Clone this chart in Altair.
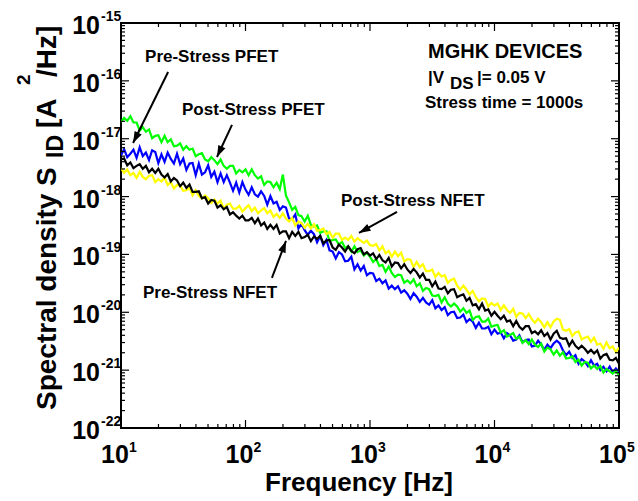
import math
import altair as alt
import pandas as pd

# ---------------- data ----------------
freq_hz = [10.00, 10.59, 11.22, 11.89, 12.59, 13.34, 14.13, 14.96, 15.85, 16.79, 17.78, 18.84, 19.95, 21.13, 22.39, 23.71,
           25.12, 26.61, 28.18, 29.85, 31.62, 33.50, 35.48, 37.58, 39.81, 42.17, 44.67, 47.32, 50.12, 53.09, 56.23, 59.57,
           63.10, 66.83, 70.79, 74.99, 79.43, 84.14, 89.13, 94.41,
           100.0, 105.9, 112.2, 118.9, 125.9, 133.4, 141.3, 149.6, 158.5, 167.9, 177.8, 188.4, 199.5, 211.3, 223.9, 237.1,
           251.2, 266.1, 281.8, 298.5, 316.2, 335.0, 354.8, 375.8, 398.1, 421.7, 446.7, 473.2, 501.2, 530.9, 562.3, 595.7,
           631.0, 668.3, 707.9, 749.9, 794.3, 841.4, 891.3, 944.1,
           1000, 1059, 1122, 1189, 1259, 1334, 1413, 1496, 1585, 1679, 1778, 1884, 1995, 2113, 2239, 2371,
           2512, 2661, 2818, 2985, 3162, 3350, 3548, 3758, 3981, 4217, 4467, 4732, 5012, 5309, 5623, 5957,
           6310, 6683, 7079, 7499, 7943, 8414, 8913, 9441,
           10000, 10590, 11220, 11890, 12590, 13340, 14130, 14960, 15850, 16790, 17780, 18840, 19950, 21130, 22390, 23710,
           25120, 26610, 28180, 29850, 31620, 33500, 35480, 37580, 39810, 42170, 44670, 47320, 50120, 53090, 56230, 59570,
           63100, 66830, 70790, 74990, 79430, 84140, 89130, 94410,
           100000]

# log10 of S_ID [A^2/Hz], one value per frequency above
post_pfet_log = [-16.71, -16.64, -16.69, -16.61, -16.72, -16.72, -16.86, -16.80, -16.88, -16.84,
                 -16.99, -16.95, -16.94, -17.06, -16.95, -17.06, -17.01, -17.13, -17.12, -17.08,
                 -17.19, -17.13, -17.19, -17.17, -17.30, -17.27, -17.25, -17.36, -17.39, -17.32,
                 -17.37, -17.44, -17.36, -17.47, -17.52, -17.47, -17.47, -17.60, -17.54, -17.58,
                 -17.53, -17.63, -17.53, -17.63, -17.69, -17.65, -17.80, -17.74, -17.75, -17.84,
                 -17.76, -17.87, -17.62, -17.98, -18.10, -18.23, -18.18, -18.32, -18.34, -18.43,
                 -18.33, -18.49, -18.52, -18.50, -18.63, -18.60, -18.60, -18.77, -18.75, -18.74,
                 -18.83, -18.78, -18.89, -18.86, -18.95, -18.86, -18.96, -18.93, -19.02, -18.97,
                 -19.04, -19.13, -19.08, -19.20, -19.18, -19.30, -19.21, -19.32, -19.39, -19.35,
                 -19.36, -19.49, -19.45, -19.50, -19.43, -19.55, -19.50, -19.63, -19.58, -19.60,
                 -19.71, -19.72, -19.70, -19.83, -19.74, -19.85, -19.90, -19.85, -19.90, -19.99,
                 -19.93, -20.01, -19.97, -20.13, -20.08, -20.07, -20.16, -20.16, -20.11, -20.25,
                 -20.23, -20.22, -20.35, -20.31, -20.42, -20.39, -20.36, -20.46, -20.42, -20.53,
                 -20.48, -20.55, -20.47, -20.56, -20.60, -20.54, -20.68, -20.61, -20.64, -20.73,
                 -20.66, -20.75, -20.69, -20.80, -20.79, -20.76, -20.86, -20.82, -20.92, -20.86,
                 -20.87, -20.97, -20.92, -20.98, -20.93, -21.04, -20.98, -21.02, -21.06, -21.01,
                 -21.09]

pre_pfet_log = [-17.29, -17.18, -17.32, -17.26, -17.19, -17.33, -17.15, -17.30, -17.24, -17.37,
                -17.20, -17.23, -17.42, -17.27, -17.40, -17.24, -17.35, -17.43, -17.26, -17.44,
                -17.34, -17.54, -17.43, -17.42, -17.63, -17.43, -17.62, -17.58, -17.46, -17.66,
                -17.57, -17.75, -17.60, -17.75, -17.63, -17.76, -17.90, -17.76, -17.93, -17.75,
                -17.88, -17.97, -17.84, -17.96, -18.00, -17.91, -17.99, -18.14, -17.99, -18.12,
                -18.09, -18.23, -18.17, -18.19, -18.38, -18.39, -18.31, -18.55, -18.47, -18.58,
                -18.66, -18.59, -18.65, -18.79, -18.68, -18.84, -18.75, -18.93, -18.95, -19.07,
                -18.96, -19.00, -19.12, -19.11, -19.04, -19.26, -19.17, -19.28, -19.20, -19.36,
                -19.32, -19.33, -19.46, -19.42, -19.50, -19.45, -19.59, -19.54, -19.60, -19.55,
                -19.66, -19.62, -19.68, -19.77, -19.67, -19.73, -19.82, -19.75, -19.83, -19.87,
                -19.79, -19.93, -19.88, -19.96, -19.91, -20.05, -20.00, -19.99, -20.10, -20.09,
                -20.04, -20.17, -20.12, -20.16, -20.27, -20.18, -20.28, -20.28, -20.25, -20.38,
                -20.30, -20.37, -20.35, -20.45, -20.36, -20.40, -20.49, -20.47, -20.40, -20.52,
                -20.48, -20.47, -20.59, -20.58, -20.49, -20.56, -20.65, -20.56, -20.62, -20.54,
                -20.49, -20.54, -20.66, -20.74, -20.68, -20.79, -20.74, -20.89, -20.81, -20.85,
                -20.93, -20.83, -20.92, -20.89, -21.00, -20.94, -21.02, -20.94, -21.04, -20.97,
                -21.03]

post_nfet_log = [-17.51, -17.59, -17.53, -17.63, -17.59, -17.68, -17.57, -17.66, -17.70, -17.64,
                 -17.63, -17.75, -17.70, -17.74, -17.67, -17.80, -17.75, -17.86, -17.80, -17.81,
                 -17.90, -17.89, -17.85, -17.98, -17.89, -17.99, -18.03, -17.98, -18.03, -18.11,
                 -18.05, -18.12, -18.07, -18.21, -18.14, -18.12, -18.21, -18.21, -18.16, -18.26,
                 -18.20, -18.15, -18.25, -18.19, -18.29, -18.24, -18.20, -18.29, -18.24, -18.35,
                 -18.30, -18.37, -18.29, -18.38, -18.43, -18.37, -18.50, -18.43, -18.46, -18.54,
                 -18.47, -18.55, -18.48, -18.59, -18.58, -18.55, -18.65, -18.61, -18.71, -18.64,
                 -18.64, -18.75, -18.71, -18.75, -18.68, -18.78, -18.72, -18.76, -18.80, -18.76,
                 -18.84, -18.85, -18.82, -18.93, -18.86, -18.98, -18.94, -19.04, -18.95, -19.03,
                 -18.97, -19.12, -19.08, -19.09, -19.22, -19.13, -19.22, -19.17, -19.29, -19.29,
                 -19.26, -19.39, -19.32, -19.38, -19.36, -19.49, -19.44, -19.42, -19.54, -19.61,
                 -19.54, -19.61, -19.69, -19.63, -19.74, -19.81, -19.76, -19.77, -19.90, -19.84,
                 -19.88, -19.85, -19.96, -19.88, -19.96, -20.01, -19.94, -20.08, -20.01, -20.02,
                 -20.10, -20.03, -20.12, -20.18, -20.11, -20.17, -20.26, -20.17, -20.26, -20.16,
                 -20.11, -20.13, -20.30, -20.32, -20.29, -20.41, -20.35, -20.33, -20.47, -20.44,
                 -20.42, -20.51, -20.44, -20.56, -20.54, -20.63, -20.52, -20.62, -20.59, -20.69,
                 -20.61]

pre_nfet_log = [-17.36, -17.34, -17.46, -17.41, -17.51, -17.47, -17.44, -17.52, -17.47, -17.58,
                -17.52, -17.59, -17.52, -17.62, -17.67, -17.61, -17.74, -17.68, -17.72, -17.82,
                -17.76, -17.85, -17.79, -17.92, -17.92, -17.91, -18.03, -18.01, -18.12, -18.06,
                -18.07, -18.19, -18.15, -18.22, -18.18, -18.31, -18.27, -18.33, -18.38, -18.33,
                -18.41, -18.41, -18.37, -18.46, -18.38, -18.50, -18.45, -18.56, -18.49, -18.56,
                -18.49, -18.64, -18.60, -18.60, -18.72, -18.61, -18.68, -18.61, -18.72, -18.70,
                -18.66, -18.77, -18.69, -18.73, -18.68, -18.81, -18.76, -18.75, -18.88, -18.92,
                -18.83, -18.88, -18.95, -18.86, -18.94, -18.98, -18.91, -18.89, -19.00, -18.96,
                -19.02, -18.98, -19.08, -19.01, -19.10, -19.14, -19.06, -19.21, -19.14, -19.15,
                -19.24, -19.17, -19.26, -19.32, -19.25, -19.31, -19.40, -19.33, -19.44, -19.44,
                -19.55, -19.47, -19.59, -19.60, -19.56, -19.67, -19.61, -19.60, -19.74, -19.71,
                -19.69, -19.80, -19.75, -19.88, -19.86, -19.95, -19.85, -19.97, -19.95, -20.06,
                -19.99, -20.06, -20.12, -20.06, -20.16, -20.14, -20.24, -20.15, -20.25, -20.30,
                -20.24, -20.24, -20.36, -20.33, -20.38, -20.31, -20.41, -20.36, -20.47, -20.37,
                -20.32, -20.44, -20.46, -20.45, -20.58, -20.49, -20.58, -20.63, -20.58, -20.63,
                -20.70, -20.65, -20.71, -20.66, -20.80, -20.74, -20.72, -20.82, -20.83, -20.79,
                -20.89]

# tick labels
x_major = [10, 100, 1000, 10000, 100000]
x_exp_labels = ["1", "2", "3", "4", "5"]
y_major_exp = [-22, -21, -20, -19, -18, -17, -16, -15]
y_exp_labels = ["-22", "-21", "-20", "-19", "-18", "-17", "-16", "-15"]

# annotations (data coordinates)
ann_text = ["Pre-Stress PFET", "Post-Stress PFET", "Post-Stress NFET", "Pre-Stress NFET"]
ann_f = [15.6, 30.9, 585, 15.0]
ann_S = [2.12e-16, 2.57e-17, 6.88e-19, 1.77e-20]
arrow_f0 = [23.9, 77.9, 1648, 163]
arrow_S0 = [1.42e-16, 1.73e-17, 5.42e-19, 3.93e-20]
arrow_f1 = [12.5, 59.0, 816, 211.5]
arrow_S1 = [8.43e-18, 4.83e-18, 2.35e-19, 1.71e-19]

# ---------------- chart ----------------
W, H = 498, 405
FONT = "Liberation Sans"
xs = alt.Scale(type="log", domain=[10, 100000], nice=False)
ys = alt.Scale(type="log", domain=[1e-22, 1e-15], nice=False)


def X(field):
    return alt.X(field, type="quantitative", scale=xs, axis=None)


def Y(field):
    return alt.Y(field, type="quantitative", scale=ys, axis=None)


def series(vals, color):
    df = pd.DataFrame({"f": freq_hz, "S": [10.0 ** v for v in vals]})
    return alt.Chart(df).mark_line(color=color, strokeWidth=2.2, clip=True).encode(x=X("f"), y=Y("S"))


layers = [
    series(pre_pfet_log, "#0000ff"),
    series(post_pfet_log, "#00ff00"),
    series(post_nfet_log, "#ffff00"),
    series(pre_nfet_log, "#000000"),
]

# inward ticks
x_minor = [m * 10 ** e for e in range(1, 5) for m in range(2, 10)]
y_minor = [m * 10.0 ** e for e in range(-22, -15) for m in range(2, 10)]
y_major = [10.0 ** e for e in y_major_exp]


def xticks(vals, length):
    c = alt.Chart(pd.DataFrame({"f": vals})).mark_rule(color="black", strokeWidth=1.2)
    return [c.encode(x=X("f"), y=alt.value(H), y2=alt.value(H - length)),
            c.encode(x=X("f"), y=alt.value(0), y2=alt.value(length))]


def yticks(vals, length):
    c = alt.Chart(pd.DataFrame({"S": vals})).mark_rule(color="black", strokeWidth=1.2)
    return [c.encode(y=Y("S"), x=alt.value(0), x2=alt.value(length)),
            c.encode(y=Y("S"), x=alt.value(W), x2=alt.value(W - length))]


layers += xticks(x_major, 8) + xticks(x_minor, 4) + yticks(y_major, 8) + yticks(y_minor, 4)

# tick labels
xl = pd.DataFrame({"f": x_major, "e": x_exp_labels})
layers.append(alt.Chart(xl).mark_text(font=FONT, fontSize=25, fontWeight="bold", align="center",
                                      baseline="alphabetic", dx=-6).encode(
    x=X("f"), y=alt.value(H + 35), text=alt.value("10")))
layers.append(alt.Chart(xl).mark_text(font=FONT, fontSize=14, fontWeight="bold", align="left",
                                      baseline="alphabetic", dx=8).encode(
    x=X("f"), y=alt.value(H + 24), text="e:N"))

yl = pd.DataFrame({"S": y_major, "e": y_exp_labels})
layers.append(alt.Chart(yl).mark_text(font=FONT, fontSize=25, fontWeight="bold", align="right",
                                      baseline="alphabetic", dy=11).encode(
    y=Y("S"), x=alt.value(-21), text=alt.value("10")))
layers.append(alt.Chart(yl).mark_text(font=FONT, fontSize=14, fontWeight="bold", align="left",
                                      baseline="alphabetic", dy=-2).encode(
    y=Y("S"), x=alt.value(-20), text="e:N"))


# axis titles
def ptext(txt, x, y, size, angle=0, align="left"):
    props = dict(font=FONT, fontSize=size, fontWeight="bold", align=align, baseline="alphabetic")
    if angle:
        props["angle"] = angle
    return alt.Chart(pd.DataFrame({"t": [txt]})).mark_text(**props).encode(
        x=alt.value(x), y=alt.value(y), text="t:N")


layers.append(ptext("Frequency [Hz]", 238, H + 63, 26, align="center"))
layers.append(ptext("Spectral density S", -65, 387, 28, angle=270))
layers.append(ptext("ID", -58, 135, 23, angle=270))
layers.append(ptext("[A", -65, 105, 28, angle=270))
layers.append(ptext("2", -91, 62, 19, angle=270))
layers.append(ptext("/Hz]", -65, 54, 28, angle=270))

# info block
layers.append(ptext("MGHK DEVICES", 307, 35, 20))
layers.append(ptext("|V", 307, 60, 17))
layers.append(ptext("DS", 329, 66, 17))
layers.append(ptext("|= 0.05 V", 356, 60, 17))
layers.append(ptext("Stress time = 1000s", 304, 85, 17))

# annotations with arrows
ann = pd.DataFrame({"f": ann_f, "S": ann_S, "t": ann_text})
layers.append(alt.Chart(ann).mark_text(font=FONT, fontSize=17, fontWeight="bold", align="left",
                                       baseline="alphabetic").encode(x=X("f"), y=Y("S"), text="t:N"))

angles = []
for f0, s0, f1, s1 in zip(arrow_f0, arrow_S0, arrow_f1, arrow_S1):
    dx = (math.log10(f1) - math.log10(f0)) * W / 4
    dy = -(math.log10(s1) - math.log10(s0)) * H / 7
    angles.append(math.degrees(math.atan2(dx, -dy)) % 360)

arr = pd.DataFrame({"f0": arrow_f0, "S0": arrow_S0, "f1": arrow_f1, "S1": arrow_S1, "a": angles})
layers.append(alt.Chart(arr).mark_rule(color="black", strokeWidth=2).encode(
    x=X("f0"), y=Y("S0"), x2="f1:Q", y2="S1:Q"))
layers.append(alt.Chart(arr).mark_point(shape="M0,0 L-0.75,2.2 L0.75,2.2 Z", filled=True, size=110,
                                        color="black", opacity=1, strokeWidth=0).encode(
    x=X("f1"), y=Y("S1"), angle=alt.Angle("a:Q", scale=None)))

chart = alt.layer(*layers).properties(
    width=W, height=H,
    autosize=alt.AutoSizeParams(type="none"),
    padding={"left": 121, "top": 23, "right": 19, "bottom": 73},
    background="white",
).configure_view(stroke="black", strokeWidth=2)

chart.save("out.html", embed_options={"renderer": "svg", "actions": False})
